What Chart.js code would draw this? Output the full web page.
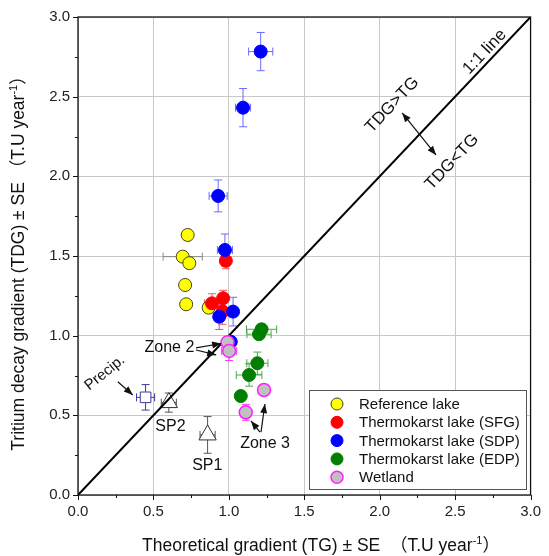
<!DOCTYPE html>
<html><head><meta charset="utf-8">
<script src="https://cdn.jsdelivr.net/npm/chart.js@4.4.0/dist/chart.umd.min.js"></script>
<style>html,body{margin:0;padding:0;background:#fff;}#wrap{width:549px;height:556px;}</style>
</head><body><div id="wrap"><canvas id="c" width="549" height="556"></canvas></div>
<script>
const FONT = '"Liberation Sans", Arial, "Noto Sans CJK SC", sans-serif';
const tickValues = [0, 0.5, 1, 1.5, 2, 2.5, 3];
const tickLabels = ['0.0','0.5','1.0','1.5','2.0','2.5','3.0'];

const refX = [0.727, 0.694, 0.738, 0.710, 0.717, 0.866];
const refY = [1.632, 1.496, 1.455, 1.318, 1.197, 1.176];
const refXErr = [0.02, 0.13, 0.02, 0.02, 0.02, 0.02];
const refYErr = [0.02, 0.02, 0.02, 0.02, 0.02, 0.02];

const sfgX = [0.980, 0.962, 0.888, 0.958];
const sfgY = [1.470, 1.235, 1.203, 1.151];
const sfgXErr = [0.03, 0.03, 0.05, 0.03];
const sfgYErr = [0.05, 0.05, 0.06, 0.08];

const sdpX = [1.211, 1.094, 0.929, 0.974, 1.028, 0.936, 1.013];
const sdpY = [2.783, 2.431, 1.877, 1.538, 1.151, 1.119, 0.962];
const sdpXErr = [0.08, 0.05, 0.06, 0.05, 0.03, 0.03, 0.02];
const sdpYErr = [0.12, 0.12, 0.10, 0.10, 0.09, 0.08, 0.02];

const edpX = [1.217, 1.200, 1.189, 1.134, 1.079];
const edpY = [1.040, 1.009, 0.827, 0.753, 0.621];
const edpXErr = [0.10, 0.08, 0.07, 0.085, 0.03];
const edpYErr = [0.03, 0.03, 0.07, 0.07, 0.02];

const wetX = [0.991, 1.002, 1.233, 1.112];
const wetY = [0.958, 0.904, 0.659, 0.519];
const wetXErr = [0.03, 0.05, 0.02, 0.03];
const wetYErr = [0.02, 0.06, 0.02, 0.05];

const precipX = [0.448], precipY = [0.613], precipXErr = [0.06], precipYErr = [0.08];
const spX = [0.602, 0.859], spY = [0.580, 0.377], spXErr = [0.05, 0.05], spYErr = [0.06, 0.115];

const legendLabels = ['Reference lake','Thermokarst lake (SFG)','Thermokarst lake (SDP)','Thermokarst lake (EDP)','Wetland'];

function pts(xs, ys){ return xs.map((x,i)=>({x:x, y:ys[i]})); }

const datasets = [
  {label:'Wetland', data:pts(wetX,wetY), errX:wetXErr, errY:wetYErr, errColor:'#ff33ff',
   backgroundColor:'#c0c0c0', borderColor:'#ff22ff', borderWidth:1.5, pointRadius:6.5},
  {label:'EDP', data:pts(edpX,edpY), errX:edpXErr, errY:edpYErr, errColor:'#4ca64c',
   backgroundColor:'#007f00', borderColor:'#007f00', borderWidth:1, pointRadius:6.5},
  {label:'SDP', data:pts(sdpX,sdpY), errX:sdpXErr, errY:sdpYErr, errColor:'#6a6aff',
   backgroundColor:'#0000ff', borderColor:'#0000ff', borderWidth:1, pointRadius:6.5},
  {label:'SFG', data:pts(sfgX,sfgY), errX:sfgXErr, errY:sfgYErr, errColor:'#ff5a5a',
   backgroundColor:'#ff0000', borderColor:'#ff0000', borderWidth:1, pointRadius:6.5},
  {label:'Reference', data:pts(refX,refY), errX:refXErr, errY:refYErr, errColor:'#888888',
   backgroundColor:'#ffff00', borderColor:'#444422', borderWidth:1, pointRadius:6.5},
  {label:'line', data:[{x:tickValues[0],y:tickValues[0]},{x:tickValues[6],y:tickValues[6]}], showLine:true,
   borderColor:'#000', borderWidth:2, pointRadius:0, errX:null},
  {label:'Precip', data:pts(precipX,precipY), errX:precipXErr, errY:precipYErr, errColor:'#3a3a9a',
   pointStyle:'rect', backgroundColor:'#ffffff', borderColor:'#3a3a9a', borderWidth:1, pointRadius:7.5},
  {label:'SP', data:pts(spX,spY), errX:spXErr, errY:spYErr, errColor:'#555555',
   pointStyle:'triangle', backgroundColor:'#ffffff', borderColor:'#333333', borderWidth:1, pointRadius:10}
];

function arrow(ctx, x1, y1, x2, y2, both){
  ctx.beginPath(); ctx.moveTo(x1,y1); ctx.lineTo(x2,y2); ctx.stroke();
  const head = (ax, ay, bx, by) => {
    const a = Math.atan2(by-ay, bx-ax), L = 9, W = 3.5;
    ctx.beginPath(); ctx.moveTo(bx,by);
    ctx.lineTo(bx - L*Math.cos(a) + W*Math.sin(a), by - L*Math.sin(a) - W*Math.cos(a));
    ctx.lineTo(bx - L*Math.cos(a) - W*Math.sin(a), by - L*Math.sin(a) + W*Math.cos(a));
    ctx.closePath(); ctx.fill();
  };
  head(x1,y1,x2,y2); if (both) head(x2,y2,x1,y1);
}
function rotText(ctx, t, x, y, ang, size){
  ctx.save(); ctx.translate(x,y); ctx.rotate(ang);
  ctx.font = size+'px '+FONT; ctx.textAlign='center'; ctx.textBaseline='middle';
  ctx.fillText(t,0,0); ctx.restore();
}
function supTitle(ctx, cx, cy, rot, pre, sup, post, size){
  ctx.save(); ctx.translate(cx,cy); ctx.rotate(rot);
  ctx.fillStyle='#111'; ctx.textBaseline='alphabetic'; ctx.textAlign='left';
  ctx.font = size+'px '+FONT; const w1 = ctx.measureText(pre).width, w3 = ctx.measureText(post).width;
  ctx.font = Math.round(size*0.62)+'px '+FONT; const w2 = ctx.measureText(sup).width;
  let x = -(w1+w2+w3)/2, by = size*0.36;
  ctx.font = size+'px '+FONT; ctx.fillText(pre, x, by); x += w1;
  ctx.font = Math.round(size*0.62)+'px '+FONT; ctx.fillText(sup, x, by - size*0.42); x += w2;
  ctx.font = size+'px '+FONT; ctx.fillText(post, x, by);
  ctx.restore();
}

const custom = {
  id:'custom',
  beforeDatasetsDraw(chart){
    const ctx = chart.ctx, xs = chart.scales.x, ys = chart.scales.y;
    ctx.save(); ctx.lineWidth = 1;
    chart.data.datasets.forEach(ds => {
      if (!ds.errX) return;
      ctx.strokeStyle = ds.errColor;
      ds.data.forEach((p,i) => {
        const px = xs.getPixelForValue(p.x), py = ys.getPixelForValue(p.y);
        const x1 = xs.getPixelForValue(p.x - ds.errX[i]), x2 = xs.getPixelForValue(p.x + ds.errX[i]);
        const y1 = ys.getPixelForValue(p.y - ds.errY[i]), y2 = ys.getPixelForValue(p.y + ds.errY[i]);
        const c = 4;
        ctx.beginPath();
        ctx.moveTo(x1,py); ctx.lineTo(x2,py);
        ctx.moveTo(x1,py-c); ctx.lineTo(x1,py+c);
        ctx.moveTo(x2,py-c); ctx.lineTo(x2,py+c);
        ctx.moveTo(px,y1); ctx.lineTo(px,y2);
        ctx.moveTo(px-c,y1); ctx.lineTo(px+c,y1);
        ctx.moveTo(px-c,y2); ctx.lineTo(px+c,y2);
        ctx.stroke();
      });
    });
    ctx.restore();
  },
  afterDraw(chart){
    const ctx = chart.ctx, xs = chart.scales.x, ys = chart.scales.y, a = chart.chartArea;
    ctx.save();
    ctx.strokeStyle = '#111'; ctx.lineWidth = 1.3;
    ctx.strokeRect(a.left, a.top, a.right-a.left, a.bottom-a.top);
    ctx.lineWidth = 1; ctx.strokeStyle = '#111';
    for (let k = 0; k <= 12; k++){
      const v = k*0.25, len = (k%2===0) ? 5 : 3;
      const px = Math.round(xs.getPixelForValue(v))+0.5, py = Math.round(ys.getPixelForValue(v))+0.5;
      ctx.beginPath(); ctx.moveTo(px, a.bottom); ctx.lineTo(px, a.bottom+len);
      ctx.moveTo(a.left, py); ctx.lineTo(a.left-len, py); ctx.stroke();
    }
    supTitle(ctx, 321, 545, 0, 'Theoretical gradient (TG) \u00b1 SE  \uff08T.U year', '-1', '\uff09', 17.5);
    supTitle(ctx, 18, 259, -Math.PI/2, 'Tritium decay gradient (TDG) \u00b1 SE \uff08T.U year', '-1', '\uff09', 17.5);
    const ang = Math.atan2(ys.getPixelForValue(1)-ys.getPixelForValue(0), xs.getPixelForValue(1)-xs.getPixelForValue(0));
    ctx.fillStyle = '#111';
    rotText(ctx, '1:1 line', xs.getPixelForValue(2.696), ys.getPixelForValue(2.781), ang, 17);
    rotText(ctx, 'TDG>TG', xs.getPixelForValue(2.083), ys.getPixelForValue(2.448), ang, 17);
    rotText(ctx, 'TDG<TG', xs.getPixelForValue(2.479), ys.getPixelForValue(2.090), ang, 17);
    ctx.strokeStyle = '#111'; ctx.lineWidth = 1.2;
    arrow(ctx, xs.getPixelForValue(2.149), ys.getPixelForValue(2.398), xs.getPixelForValue(2.373), ys.getPixelForValue(2.134), true);
    rotText(ctx, 'Zone 2', xs.getPixelForValue(0.606), ys.getPixelForValue(0.923), 0, 16);
    arrow(ctx, xs.getPixelForValue(0.782), ys.getPixelForValue(0.923), xs.getPixelForValue(0.949), ys.getPixelForValue(0.951));
    arrow(ctx, xs.getPixelForValue(0.782), ys.getPixelForValue(0.910), xs.getPixelForValue(0.916), ys.getPixelForValue(0.879));
    rotText(ctx, 'Precip.', xs.getPixelForValue(0.178), ys.getPixelForValue(0.766), -39*Math.PI/180, 15);
    arrow(ctx, xs.getPixelForValue(0.264), ys.getPixelForValue(0.711), xs.getPixelForValue(0.363), ys.getPixelForValue(0.628));
    rotText(ctx, 'SP2', xs.getPixelForValue(0.613), ys.getPixelForValue(0.427), 0, 16);
    rotText(ctx, 'SP1', xs.getPixelForValue(0.857), ys.getPixelForValue(0.182), 0, 16);
    rotText(ctx, 'Zone 3', xs.getPixelForValue(1.24), ys.getPixelForValue(0.32), 0, 16);
    arrow(ctx, xs.getPixelForValue(1.213), ys.getPixelForValue(0.395), xs.getPixelForValue(1.239), ys.getPixelForValue(0.571));
    arrow(ctx, xs.getPixelForValue(1.206), ys.getPixelForValue(0.395), xs.getPixelForValue(1.147), ys.getPixelForValue(0.465));
    ctx.fillStyle = '#fff'; ctx.fillRect(309.5, 390.5, 217, 99);
    ctx.strokeStyle = '#555'; ctx.lineWidth = 1; ctx.strokeRect(309.5, 390.5, 217, 99);
    const order = [4,3,2,1,0];
    legendLabels.forEach((lab, i) => {
      const ds = chart.data.datasets[order[i]], yy = 404 + i*18.3;
      ctx.beginPath(); ctx.arc(337, yy, 6, 0, Math.PI*2);
      ctx.fillStyle = ds.backgroundColor; ctx.fill();
      ctx.strokeStyle = ds.borderColor; ctx.lineWidth = ds.borderWidth; ctx.stroke();
      ctx.fillStyle = '#111'; ctx.font = '15px '+FONT; ctx.textAlign='left'; ctx.textBaseline='middle';
      ctx.fillText(lab, 359, yy+1);
    });
    ctx.restore();
  }
};

new Chart(document.getElementById('c'), {
  type:'scatter',
  data:{datasets:datasets},
  options:{
    responsive:false, animation:false, devicePixelRatio:1,
    layout:{padding:{top:17, right:16, left:0, bottom:0}},
    plugins:{legend:{display:false}, tooltip:{enabled:false}},
    scales:{
      x:{type:'linear', min:0, max:3,
         afterFit(s){ s.height = 61; },
         grid:{color:'#c8c8c8', lineWidth:1, drawTicks:false},
         border:{display:false},
         ticks:{stepSize:0.5, padding:8, color:'#222', font:{size:15, family:FONT},
                callback:(v)=>{const i = tickValues.indexOf(v); return i>=0 ? tickLabels[i] : '';}}},
      y:{type:'linear', min:0, max:3,
         afterFit(s){ s.width = 78; },
         grid:{color:'#c8c8c8', lineWidth:1, drawTicks:false},
         border:{display:false},
         ticks:{stepSize:0.5, padding:8, color:'#222', font:{size:15, family:FONT},
                callback:(v)=>{const i = tickValues.indexOf(v); return i>=0 ? tickLabels[i] : '';}}}
    }
  },
  plugins:[custom]
});
</script></body></html>
